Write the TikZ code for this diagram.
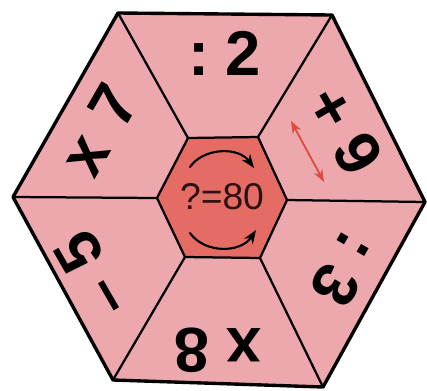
\documentclass[tikz,border=0pt]{standalone}
\usepackage{fontspec}
\setmainfont{Liberation Sans}
\usetikzlibrary{arrows.meta}
\definecolor{segpink}{RGB}{236,168,172}
\definecolor{hubred}{RGB}{228,108,100}
\definecolor{arrred}{RGB}{222,74,64}
\definecolor{hubtext}{RGB}{45,18,18}
\tikzset{
  optext/.style={font=\fontsize{45}{45}\selectfont\bfseries,inner sep=0pt},
  hubtxt/.style={font=\fontsize{26.5}{27}\selectfont,text=hubtext,inner sep=0pt},
}
\begin{document}
\begin{tikzpicture}[x=0.025cm,y=-0.025cm,line join=round,line cap=round,>=Stealth]
	\useasboundingbox (0,0) rectangle (427,390);
	% outer corners, clockwise from top left
	\coordinate (o1) at (118,13);
	\coordinate (o2) at (332,15);
	\coordinate (o3) at (425,202);
	\coordinate (o4) at (323,387);
	\coordinate (o5) at (113,380);
	\coordinate (o6) at (13,197);
	% inner corners
	\coordinate (i1) at (188,138);
	\coordinate (i2) at (258,137);
	\coordinate (i3) at (287,200);
	\coordinate (i4) at (260,258);
	\coordinate (i5) at (185,257);
	\coordinate (i6) at (157,198);
	\fill[segpink] (o1) -- (o2) -- (o3) -- (o4) -- (o5) -- (o6) -- cycle;
	\fill[hubred] (i1) -- (i2) -- (i3) -- (i4) -- (i5) -- (i6) -- cycle;
	\foreach \k in {1,...,6}{
		\draw[line width=1.6pt] (i\k) -- (o\k);	}
	\draw[line width=1.6pt] (i1) -- (i2) -- (i3) -- (i4) -- (i5) -- (i6) -- cycle;
	\draw[line width=2.4pt] (o1) -- (o2) -- (o3) -- (o4) -- (o5) -- (o6) -- cycle;
	% operations
	\node[optext] (div2) at (225,53) {:\hspace{0.25em}2};
	\node[optext,rotate=-60] (add9) at (345,130) {+ 9};
	\node[optext,rotate=-120] (div3) at (345,270) {:\hspace{0.25em}3};
	\node[optext,rotate=180] (mul8) at (218,350) {x 8};
	\node[optext,rotate=120] (sub5) at (92,275) {– 5};
	\node[optext,rotate=60] (mul7) at (99,130) {x\hspace{0.35em}7};
	% hub
	\node[hubtxt] (goal) at (222,197) {?=80};
	\coordinate (topa) at (190,167);
	\coordinate (topb) at (254,168);
	\coordinate (bota) at (190,233);
	\coordinate (botb) at (256,230);
	\draw[->,line width=1.5pt] (topa) .. controls (203,148) and (238,146) .. (topb);
	\draw[->,line width=1.5pt] (bota) .. controls (205,254) and (241,253) .. (botb);
	% red swap arrow
	\coordinate (swapa) at (291,121);
	\coordinate (swapb) at (324,182);
	\draw[<->,arrred,line width=1.3pt] (swapa) -- (swapb);
\end{tikzpicture}
\end{document}
